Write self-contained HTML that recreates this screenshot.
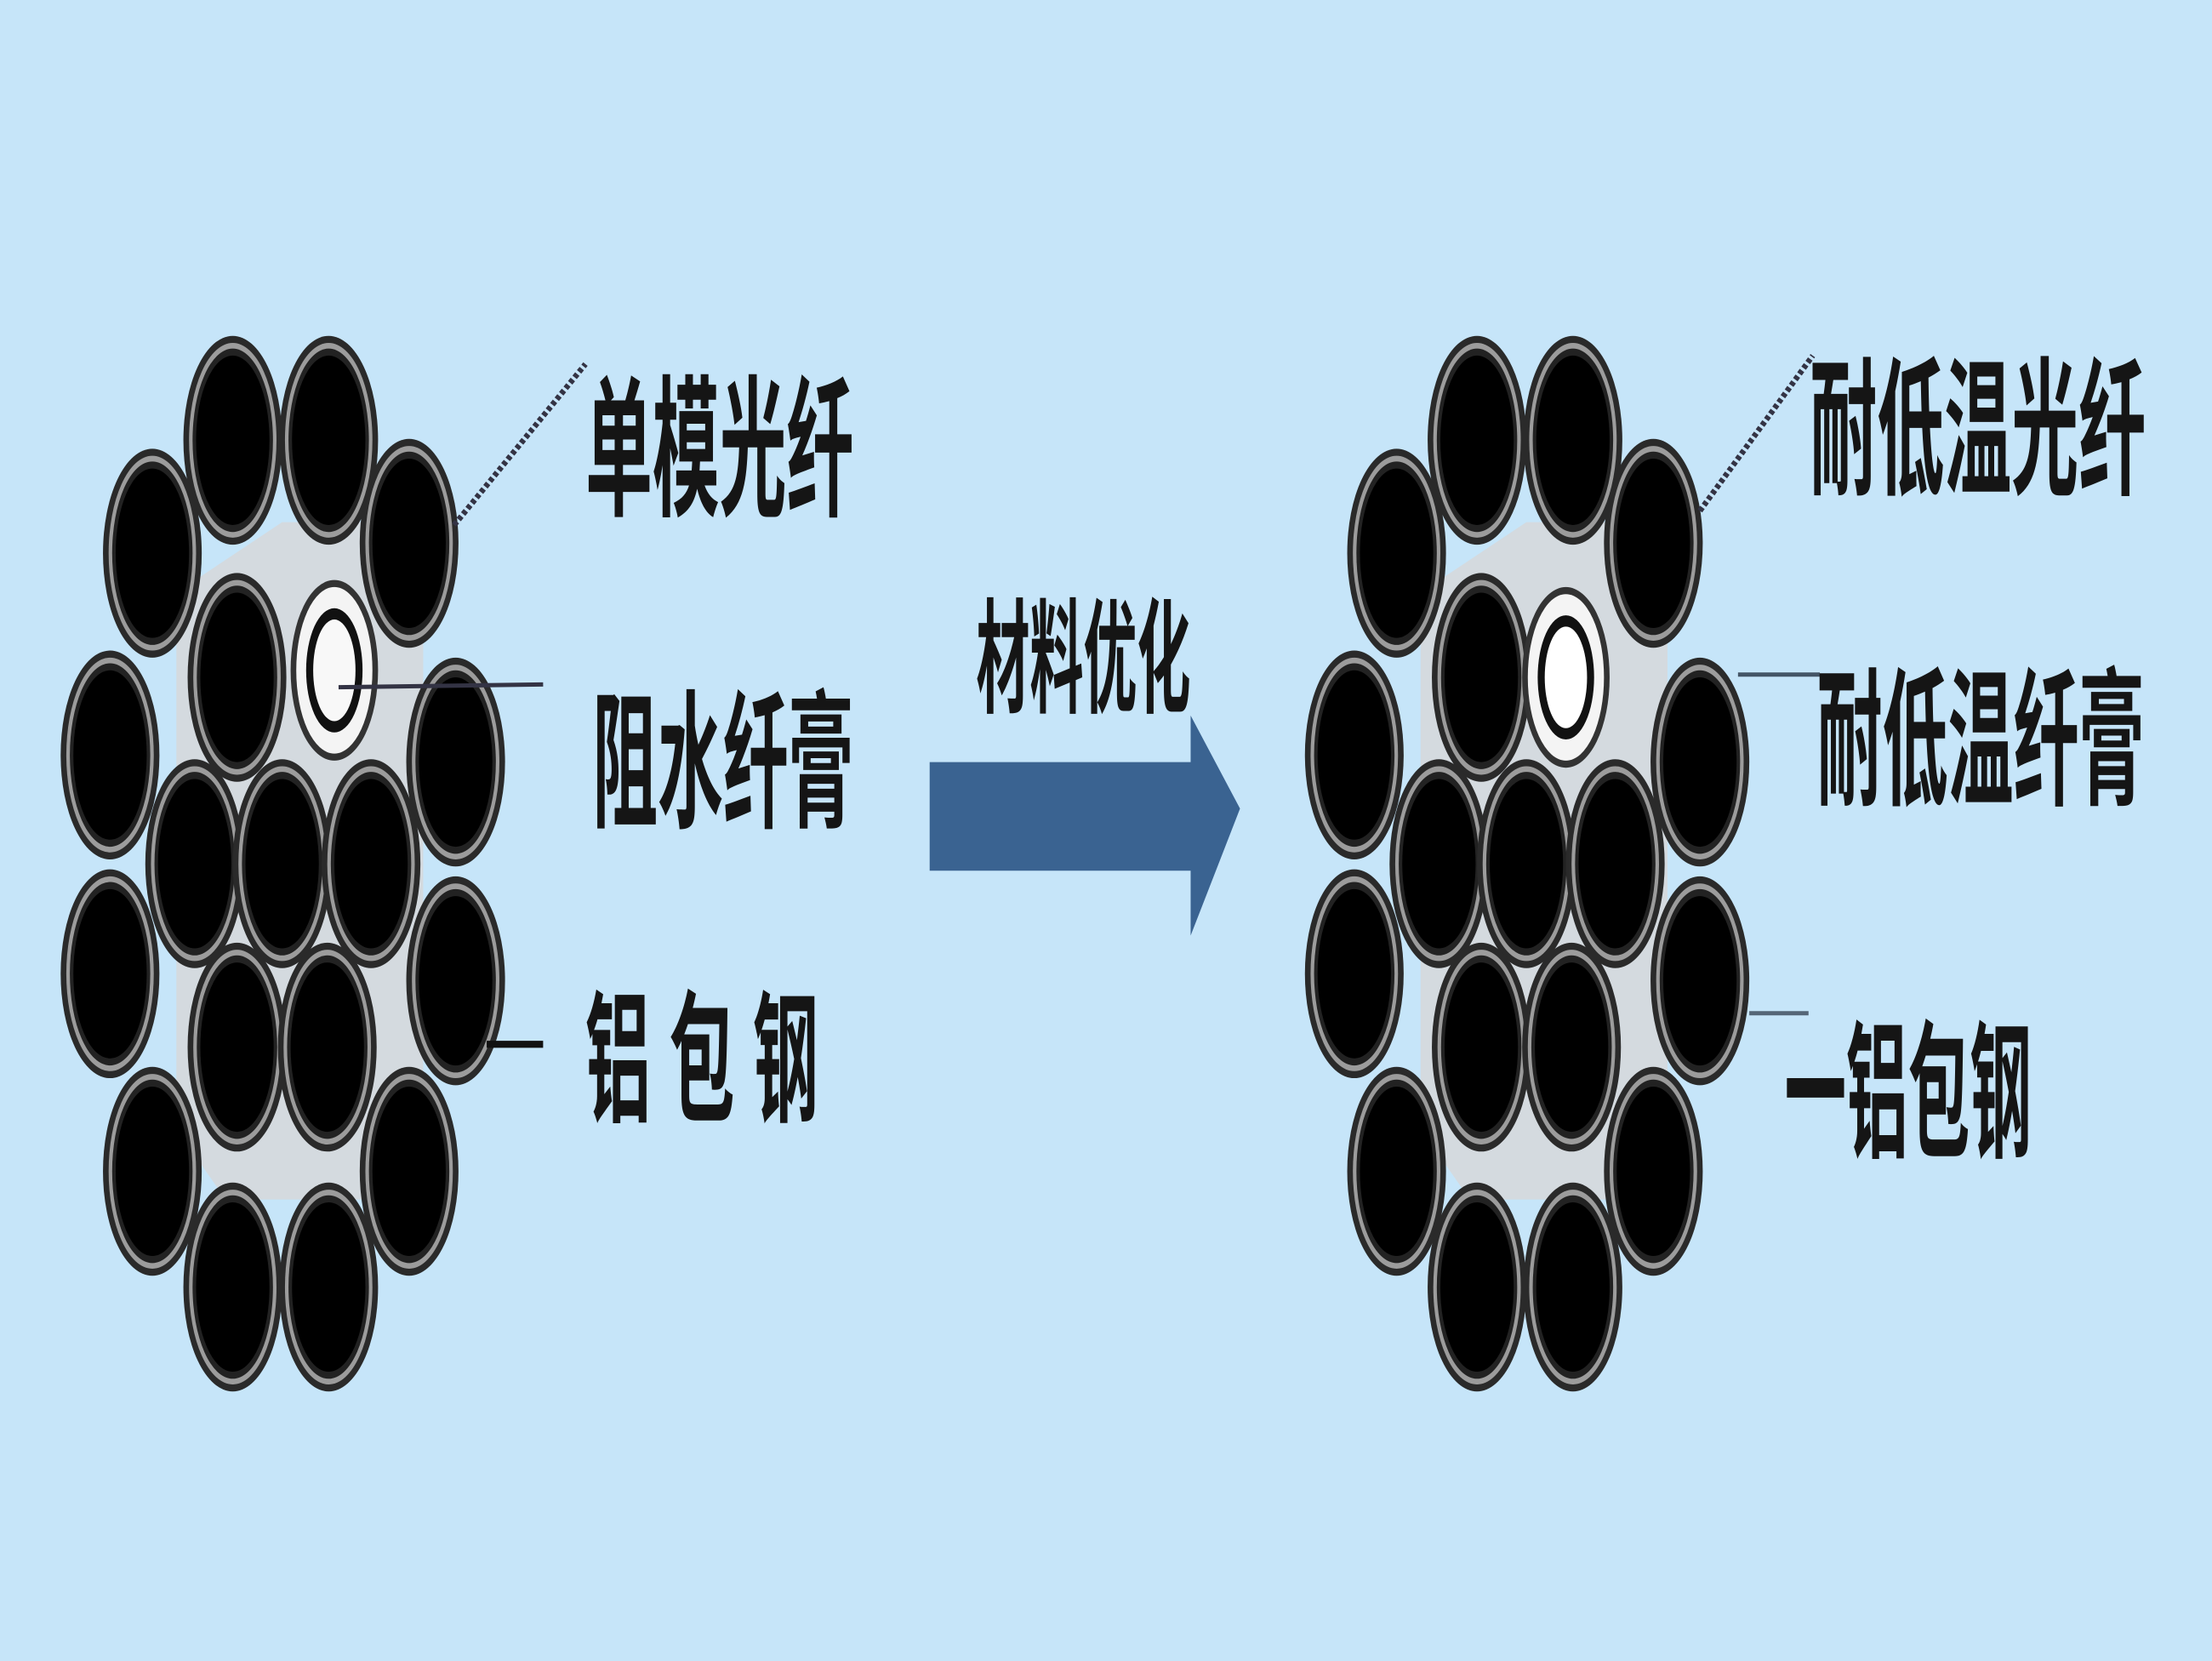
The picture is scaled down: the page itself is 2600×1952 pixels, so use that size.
<!DOCTYPE html>
<html><head><meta charset="utf-8"><style>
html,body{margin:0;padding:0;background:#c6e5f9;}
svg{display:block;}
text{font-family:"Liberation Sans","Noto Sans CJK SC",sans-serif;font-weight:bold;fill:#151515;}
</style></head><body>
<svg width="2600" height="1952" viewBox="0 0 1568 1177" preserveAspectRatio="none" xmlns="http://www.w3.org/2000/svg">
<defs>
<g id="s">
<ellipse rx="35" ry="74" fill="#2a2a2a"/>
<ellipse rx="31" ry="69" fill="#9c9c9c"/>
<ellipse rx="28.5" ry="65" fill="#222"/>
<ellipse rx="26" ry="60" fill="#000"/>
</g>
<g id="cl">
<polygon points="140,410 200,370 270,370 300,430 300,820 260,850 160,850 125,800 125,440" fill="#d4dadf"/>
<use href="#s" x="165" y="312"/><use href="#s" x="233" y="312"/>
<use href="#s" x="108" y="392"/><use href="#s" x="290" y="385"/>
<use href="#s" x="78" y="535"/><use href="#s" x="323" y="540"/>
<use href="#s" x="168" y="480"/>
<use href="#s" x="138" y="612"/><use href="#s" x="200" y="612"/><use href="#s" x="263" y="612"/>
<use href="#s" x="78" y="690"/><use href="#s" x="323" y="695"/>
<use href="#s" x="168" y="742"/><use href="#s" x="232" y="742"/>
<use href="#s" x="108" y="830"/><use href="#s" x="290" y="830"/>
<use href="#s" x="165" y="912"/><use href="#s" x="233" y="912"/>
</g>
</defs>
<rect width="1568" height="1177" fill="#c6e5f9"/>
<use href="#cl"/>
<g transform="translate(237,475)">
<ellipse rx="31" ry="64" fill="#333"/><ellipse rx="27" ry="59" fill="#f4f4f4"/>
<ellipse rx="20" ry="44" fill="#111"/><ellipse rx="15" ry="36" fill="#f8f8f8"/>
</g>
<use href="#cl" x="882"/>
<g transform="translate(1110,480)">
<ellipse rx="31" ry="64" fill="#333"/><ellipse rx="27" ry="59" fill="#f4f4f4"/>
<ellipse rx="20" ry="44" fill="#111"/><ellipse rx="15" ry="36" fill="#fff"/>
</g>
<g stroke="#334" stroke-width="4" fill="none">
<line x1="322" y1="372" x2="415" y2="258" stroke-dasharray="3 2"/>
<line x1="240" y1="487" x2="385" y2="485" stroke-width="3"/>
<line x1="345" y1="740" x2="385" y2="740" stroke="#111" stroke-width="5"/>
<line x1="1205" y1="362" x2="1285" y2="252" stroke-dasharray="3 2"/>
<line x1="1232" y1="478" x2="1290" y2="478" stroke="#456" stroke-width="3"/>
<line x1="1240" y1="718" x2="1282" y2="718" stroke="#567" stroke-width="3"/>
</g>
<polygon points="659,540 844,540 844,507 879,573 844,663 844,617 659,617" fill="#3a6391"/>
<text transform="translate(415,357) scale(1,2.25)" font-size="48" textLength="190" lengthAdjust="spacingAndGlyphs">单模光纤</text>
<text transform="translate(420,578) scale(1,2.2)" font-size="48" textLength="185" lengthAdjust="spacingAndGlyphs">阻水纤膏</text>
<text transform="translate(415,787) scale(1,2.2)" font-size="46" textLength="165" lengthAdjust="spacingAndGlyphs">铝 包 钢</text>
<text transform="translate(692,498) scale(1,2.2)" font-size="40" textLength="152" lengthAdjust="spacingAndGlyphs">材料优化</text>
<text transform="translate(1283,342) scale(1,2.2)" font-size="48" textLength="238" lengthAdjust="spacingAndGlyphs">耐低温光纤</text>
<text transform="translate(1288,562) scale(1,2.2)" font-size="48" textLength="232" lengthAdjust="spacingAndGlyphs">耐低温纤膏</text>
<text transform="translate(1265,812) scale(1,2.2)" font-size="48" textLength="175" lengthAdjust="spacingAndGlyphs">一铝包钢</text>
</svg>
</body></html>
